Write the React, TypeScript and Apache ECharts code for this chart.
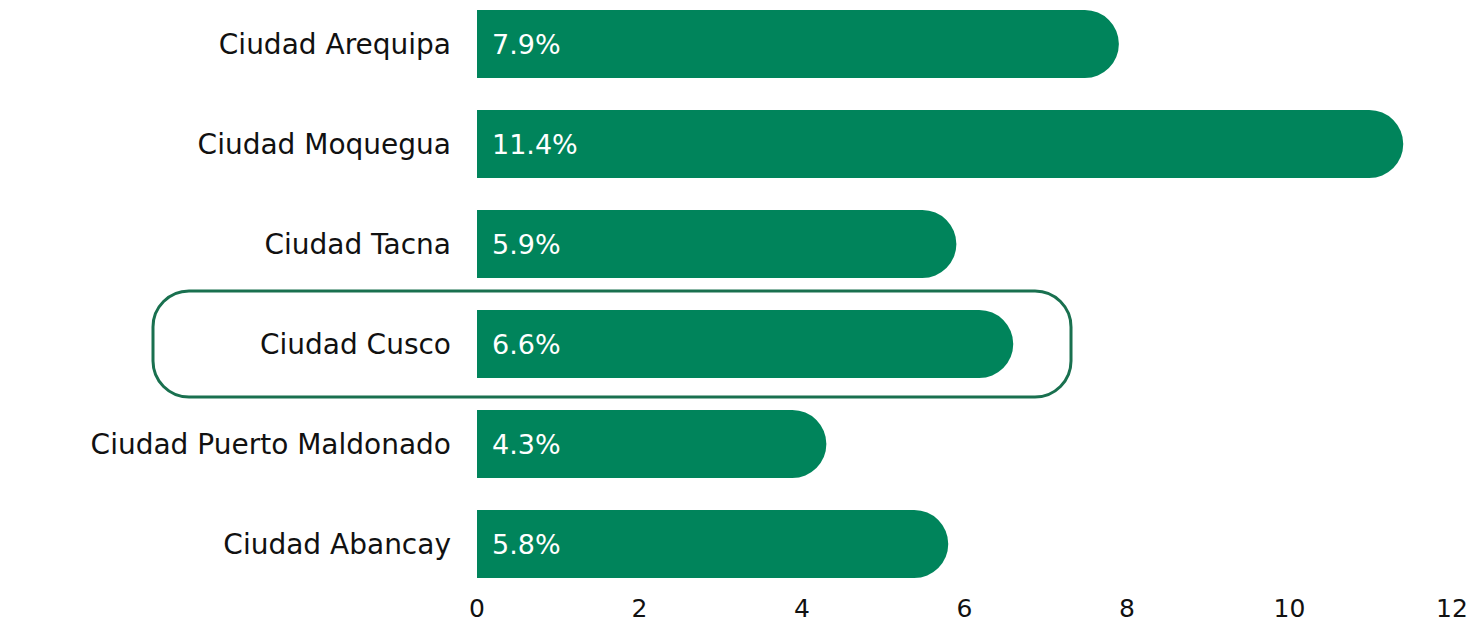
import React, { useEffect, useRef } from "react";
import * as echarts from "echarts";

const categories = [
  "Ciudad Arequipa",
  "Ciudad Moquegua",
  "Ciudad Tacna",
  "Ciudad Cusco",
  "Ciudad Puerto Maldonado",
  "Ciudad Abancay",
];
const values = [7.9, 11.4, 5.9, 6.6, 4.3, 5.8];
const highlighted = "Ciudad Cusco";
const xTicks = [0, 2, 4, 6, 8, 10, 12];

const FONT = "'DejaVu Sans', sans-serif";
const GREEN = "#00845B";

export default function App() {
  const ref = useRef<HTMLDivElement>(null);
  useEffect(() => {
    document.body.style.margin = "0";
    document.body.style.overflow = "hidden";
    const chart = echarts.init(ref.current!, null, { renderer: "svg" });
    chart.setOption({
      animation: false,
      grid: { left: 477, right: 23, top: 0, bottom: 28 },
      xAxis: {
        type: "value",
        min: xTicks[0],
        max: xTicks[xTicks.length - 1],
        interval: 2,
        axisLine: { show: false },
        axisTick: { show: false },
        splitLine: { show: false },
        axisLabel: { color: "#111", fontSize: 25, fontFamily: FONT, margin: 2 },
      },
      yAxis: {
        type: "category",
        inverse: true,
        data: categories,
        axisLine: { show: false },
        axisTick: { show: false },
        axisLabel: { color: "#111", fontSize: 28, fontFamily: FONT, margin: 26 },
      },
      series: [
        {
          type: "bar",
          data: values,
          barWidth: 68,
          itemStyle: { color: GREEN, borderRadius: [0, 34, 34, 0] },
          label: {
            show: true,
            position: "insideLeft",
            offset: [10, 0],
            color: "#fff",
            fontSize: 27,
            fontFamily: FONT,
            formatter: (p: any) => p.value.toFixed(1) + "%",
          },
        },
      ],
    });
    const cy = chart.convertToPixel({ yAxisIndex: 0 }, highlighted) as number;
    const x0 = chart.convertToPixel({ xAxisIndex: 0 }, 0) as number;
    chart.setOption({
      graphic: [
        {
          type: "rect",
          shape: { x: x0 - 324, y: cy - 53, width: 918, height: 106, r: 36 },
          style: { fill: "none", stroke: "#19704F", lineWidth: 3 },
          z: 10,
        },
      ],
    });
    return () => chart.dispose();
  }, []);
  return (
    <div style={{ position: "relative", width: 1475, height: 622, overflow: "hidden" }}>
      <div ref={ref} style={{ position: "absolute", left: 0, top: -6, width: 1475, height: 628 }} />
    </div>
  );
}
